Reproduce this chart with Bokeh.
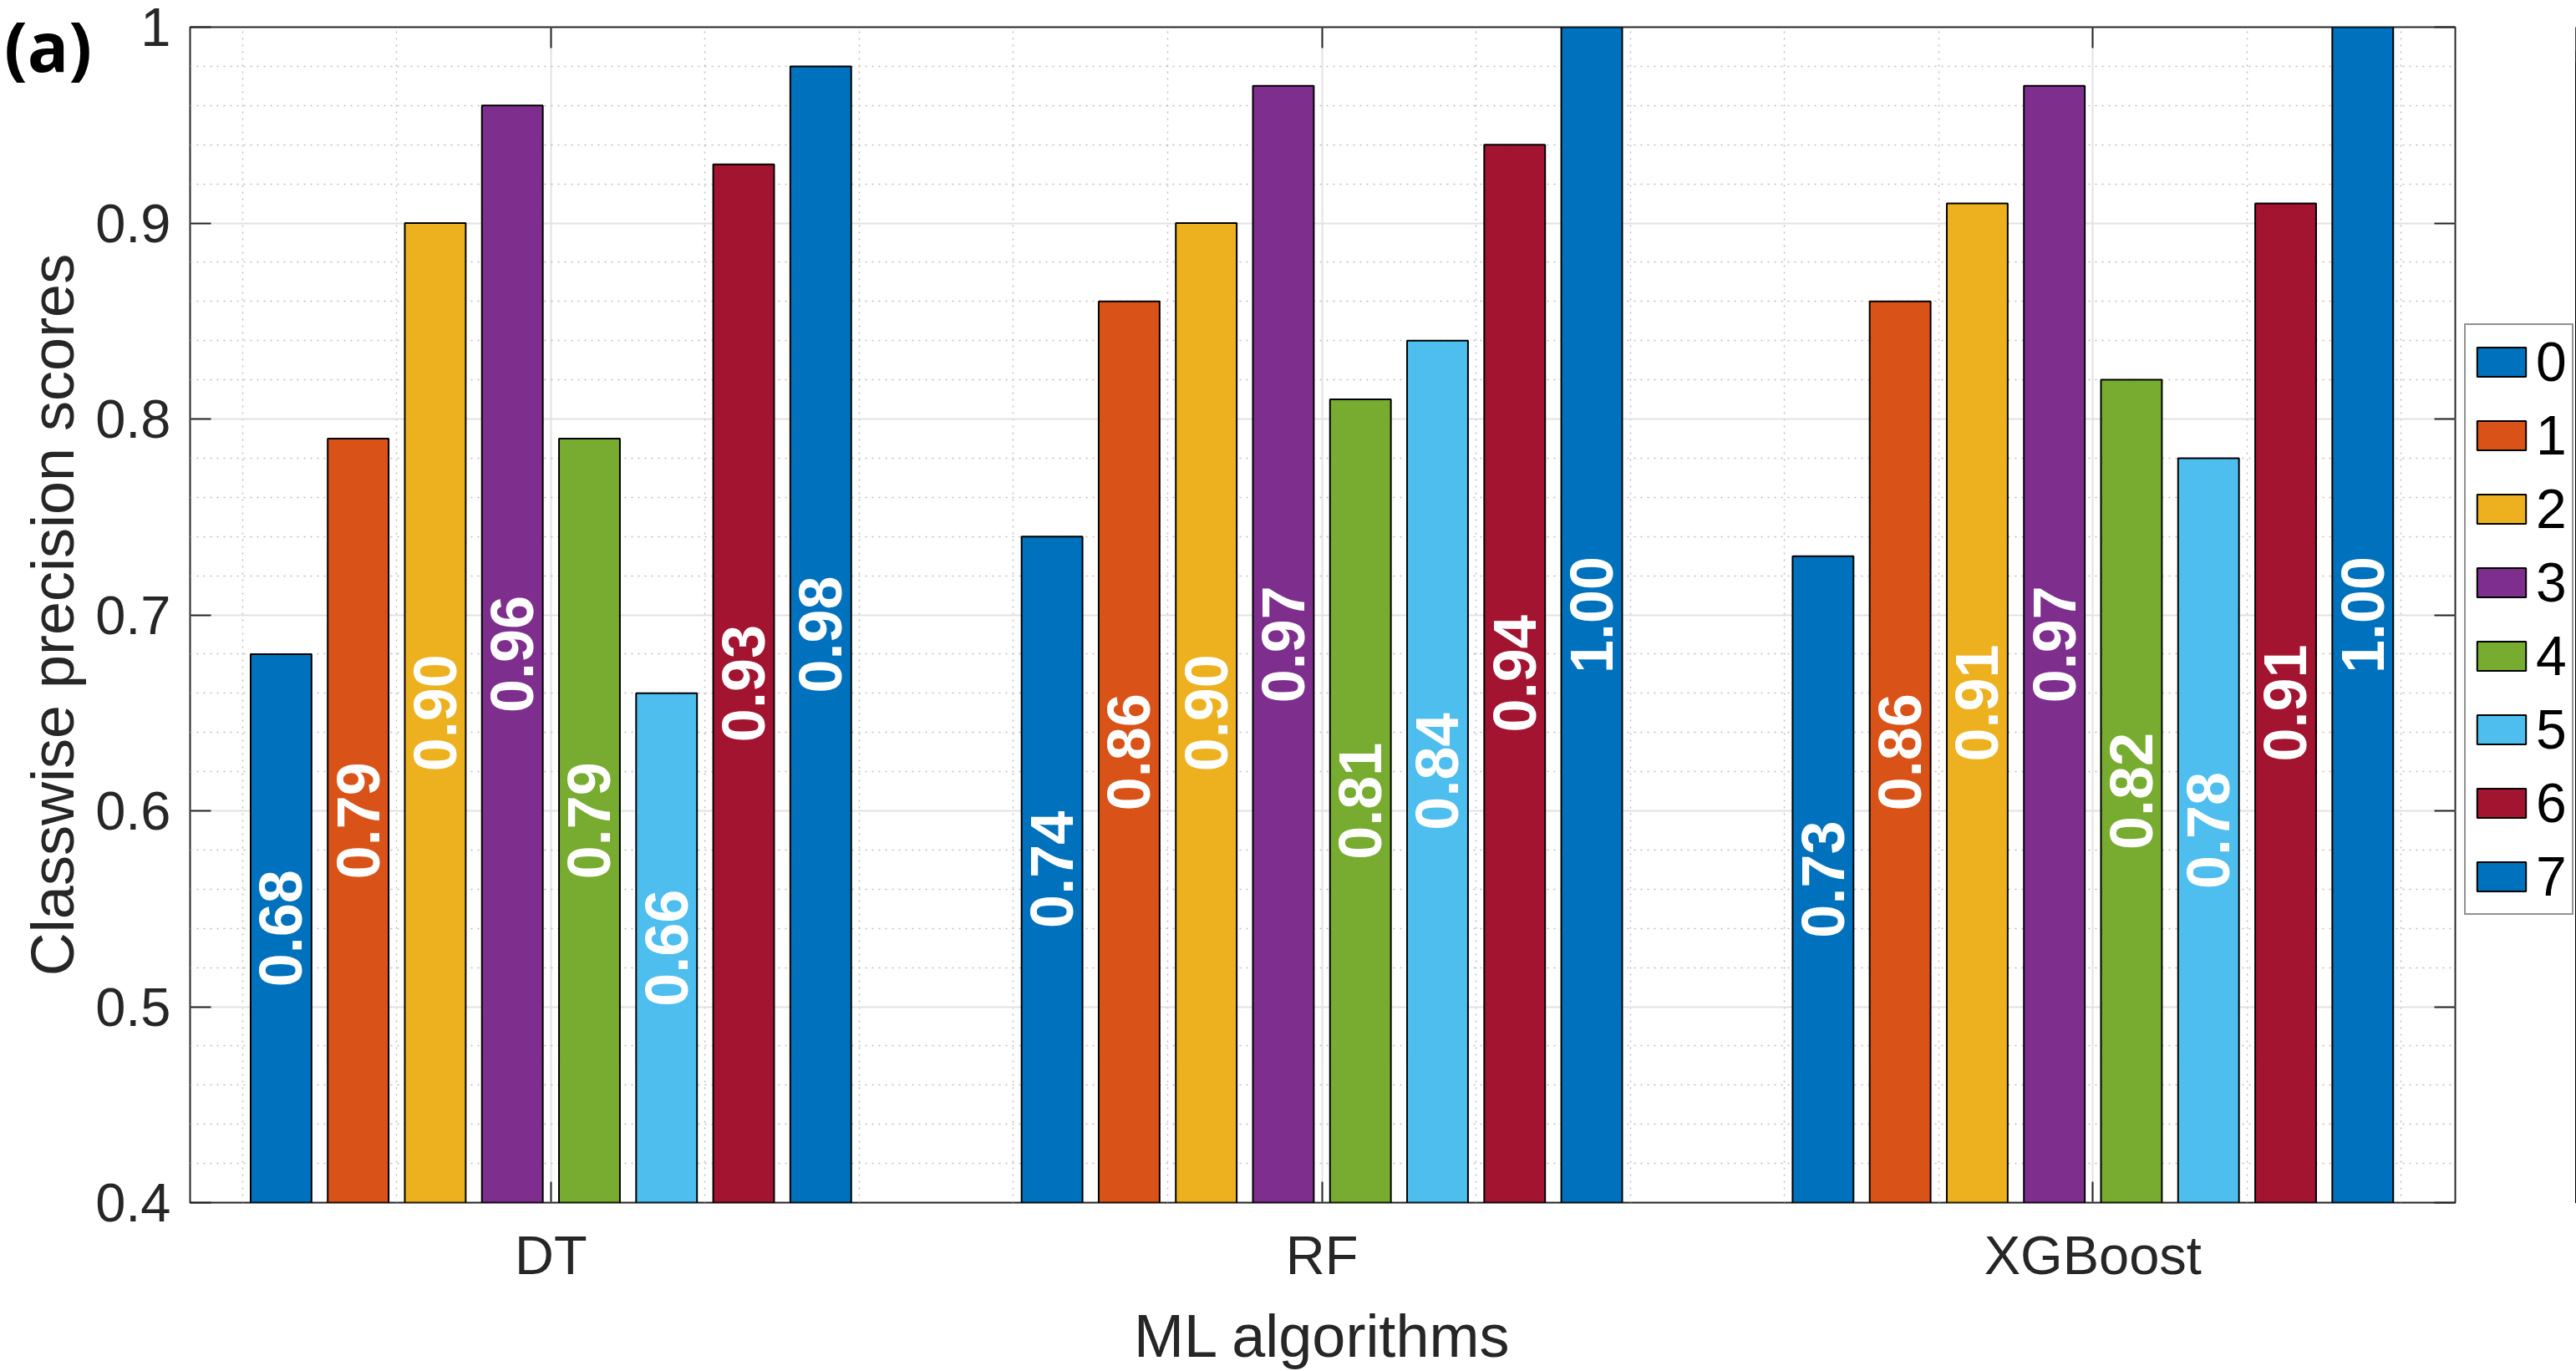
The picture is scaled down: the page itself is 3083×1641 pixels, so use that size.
import math
from bokeh.plotting import figure
from bokeh.layouts import column, row
from bokeh.models import (ColumnDataSource, Range1d, FixedTicker, LinearAxis,
                          Legend, LegendItem, Div)
from bokeh.core.properties import value
from bokeh.embed import file_html
from bokeh.resources import INLINE

# ---------------- data ----------------
algorithms = ["DT", "RF", "XGBoost"]
classes = ["0", "1", "2", "3", "4", "5", "6", "7"]
dt_scores = [0.68, 0.79, 0.90, 0.96, 0.79, 0.66, 0.93, 0.98]
rf_scores = [0.74, 0.86, 0.90, 0.97, 0.81, 0.84, 0.94, 1.00]
xgb_scores = [0.73, 0.86, 0.91, 0.97, 0.82, 0.78, 0.91, 1.00]
class_colors = ["#0072BD", "#D95319", "#EDB120", "#7E2F8E",
                "#77AC30", "#4DBEEE", "#A2142F", "#0072BD"]
y_ticks = [0.4, 0.5, 0.6, 0.7, 0.8, 0.9, 1.0]
x_title = "ML algorithms"
y_title = "Classwise precision scores"
panel_tag = "(a)"

# ---------------- styling ----------------
FONT = "Liberation Sans"
AX = "#262626"
Y_MIN, Y_MAX = 0.4, 1.0
BAR_STEP = 0.1
BAR_W = 0.079
H = 1641

p = figure(width=2940, height=H, output_backend="svg", toolbar_location=None,
           title=None,
           x_range=Range1d(0.532, 3.470), y_range=Range1d(Y_MIN, Y_MAX),
           min_border_left=227, min_border_right=2,
           min_border_top=32, min_border_bottom=201)
p.background_fill_color = "white"
p.border_fill_color = "white"
p.outline_line_color = AX
p.outline_line_width = 2

x_major = [i + 1 for i in range(len(algorithms))]
x_minor = [round(0.6 + 0.2 * k, 2) for k in range(15)]
x_minor = [t for t in x_minor if abs(t - round(t)) > 1e-6]
y_minor = [round(Y_MIN + 0.02 * k, 2) for k in range(31)]
y_minor = [t for t in y_minor if all(abs(t - m) > 1e-6 for m in y_ticks)]

xticker = FixedTicker(ticks=x_major, minor_ticks=x_minor)
yticker = FixedTicker(ticks=y_ticks, minor_ticks=y_minor)

# bottom axis
xa = p.xaxis[0]
xa.ticker = xticker
xa.major_label_overrides = {i + 1: name for i, name in enumerate(algorithms)}
xa.axis_label = x_title
# left axis
ya = p.yaxis[0]
ya.ticker = yticker
ya.major_label_overrides = {t: ("1" if t == 1.0 else f"{t:.1f}") for t in y_ticks}
ya.axis_label = y_title

for ax in (xa, ya):
    ax.axis_line_color = None
    ax.major_tick_in = 25
    ax.major_tick_out = 0
    ax.minor_tick_in = 0
    ax.minor_tick_out = 0
    ax.major_tick_line_color = AX
    ax.major_tick_line_width = 2
    ax.major_label_text_font = FONT
    ax.major_label_text_font_size = "65px"
    ax.major_label_text_color = AX
    ax.axis_label_text_font = FONT
    ax.axis_label_text_font_size = "72px"
    ax.axis_label_text_font_style = "normal"
    ax.axis_label_text_color = AX

xa.major_label_standoff = 26
xa.axis_label_standoff = 17
ya.major_label_standoff = 23
ya.axis_label_standoff = 8

# top / right axes (ticks only, as in a boxed MATLAB axes)
top_ax = LinearAxis(ticker=xticker)
top_ax.major_label_overrides = {t: "" for t in x_major}
right_ax = LinearAxis(ticker=yticker)
right_ax.major_label_overrides = {t: "" for t in y_ticks}
for ax in (top_ax, right_ax):
    ax.axis_line_color = None
    ax.major_tick_in = 25
    ax.major_tick_out = 0
    ax.minor_tick_in = 0
    ax.minor_tick_out = 0
    ax.major_tick_line_color = AX
    ax.major_tick_line_width = 2
    ax.major_label_standoff = 0
p.add_layout(top_ax, "above")
p.add_layout(right_ax, "right")

# grids
for g in (p.xgrid[0], p.ygrid[0]):
    g.grid_line_color = "#E2E2E2"
    g.grid_line_width = 2
    g.minor_grid_line_color = "#BDBDBD"
    g.minor_grid_line_width = 1.5
    g.minor_grid_line_dash = "2 6"
p.xgrid[0].ticker = xticker
p.ygrid[0].ticker = yticker

# ---------------- bars ----------------
all_scores = [dt_scores, rf_scores, xgb_scores]
n_cls = len(classes)
sources = []
for i, cls in enumerate(classes):
    xs = [k + 1 + (i - (n_cls - 1) / 2) * BAR_STEP for k in range(len(algorithms))]
    tops = [all_scores[k][i] for k in range(len(algorithms))]
    src = ColumnDataSource(dict(
        x=xs, top=tops,
        ly=[(v + Y_MIN) / 2 for v in tops],
        lbl=[f"{v:.2f}" for v in tops]))
    sources.append(src)
    p.vbar(x="x", top="top", bottom=0, width=BAR_W, source=src,
           fill_color=class_colors[i], line_color="black", line_width=2)
    p.text(x="x", y="ly", text="lbl", source=src, angle=math.pi / 2,
           text_align="center", text_baseline="middle", text_color="white",
           text_font=value(FONT), text_font_style="bold", text_font_size="72px")

# ---------------- legend (own canvas to the right of the axes) ----------------
# the same bar sources are drawn here, outside this canvas' view: only the legend shows
lp = figure(width=143, height=H, output_backend="svg", toolbar_location=None,
            title=None, x_axis_type=None, y_axis_type=None, min_border=0,
            x_range=Range1d(-3, -2), y_range=Range1d(0, 1))
lp.outline_line_color = None
lp.background_fill_color = "white"
lp.border_fill_color = "white"
items = []
for i, cls in enumerate(classes):
    r = lp.vbar(x="x", top="top", bottom=0, width=BAR_W, source=sources[i],
                fill_color=class_colors[i], line_color="black", line_width=2)
    items.append(LegendItem(label=cls, renderers=[r]))
legend = Legend(items=items, location=(9, 344), orientation="vertical")
legend.margin = 0
legend.padding = 6
legend.spacing = 12
legend.glyph_width = 73
legend.glyph_height = 44
legend.label_standoff = 5
legend.label_text_font = FONT
legend.label_text_font_size = "66px"
legend.label_text_color = "black"
legend.border_line_color = AX
legend.border_line_width = 2
legend.background_fill_color = "white"
legend.background_fill_alpha = 1.0
lp.add_layout(legend)

# panel tag "(a)"
tag = Div(text=("<span style=\"font-family:'Open Sans',sans-serif;font-weight:bold;"
                "font-size:82px;line-height:1;color:black;\">" + panel_tag + "</span>"),
          styles={"position": "absolute", "left": "0px", "top": "8px",
                  "z-index": "10", "line-height": "1"})

layout = column(row(p, lp), tag, styles={"position": "relative"})
open("out.html", "w").write(file_html(layout, INLINE))
